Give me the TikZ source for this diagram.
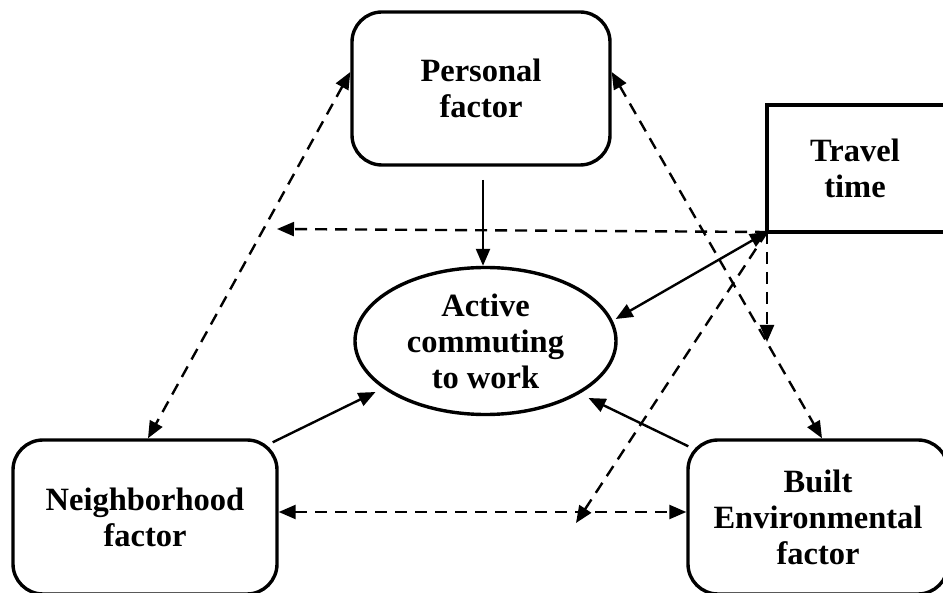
\documentclass[tikz,border=0pt]{standalone}
\usepackage{fontspec}
\setmainfont{Liberation Serif}
\usetikzlibrary{arrows.meta,shapes.geometric,calc}
\tikzset{
  box/.style={draw,line width=3.4pt,rounded corners=30pt,align=center,
    font=\bfseries\fontsize{32.5}{36}\selectfont,inner sep=0pt},
  oval/.style={draw,ellipse,line width=3.4pt,align=center,
    font=\bfseries\fontsize{32.5}{36}\selectfont,inner sep=0pt,
    minimum width=261pt,minimum height=147pt},
  head/.tip={Triangle[length=17pt,width=14pt]},
  tip/.style={-head},
  bitip/.style={head-head},
  solidarrow/.style={line width=2.4pt},
  dasharrow/.style={line width=2.4pt,dash pattern=on 12pt off 8pt},
}
\begin{document}
\begin{tikzpicture}[x=1pt,y=-1pt]
\useasboundingbox (0,0) rectangle (943,593);

% factor boxes
\node[box,minimum width=258pt,minimum height=153pt] (pf) at (481,88.5)
  {Personal\\factor};
\node[box,minimum width=264pt,minimum height=154pt] (nf) at (145,517)
  {Neighborhood\\factor};
\node[box,minimum width=260pt,minimum height=154pt] (bf) at (818,517)
  {Built\\Environmental\\factor};

% travel time box, open at the right edge
\draw[line width=3.4pt] (960,105) -- (767,105) -- (767,232) -- (960,232);
\node[font=\bfseries\fontsize{32.5}{36}\selectfont,align=center] (tt) at (855,168)
  {Travel\\time};
\coordinate (ttc) at (767,232);

% outcome
\node[oval] (ac) at (485.5,341) {Active\\commuting\\to work};

% coordinates for arrow ends
\coordinate (pfb) at (483,180);
\coordinate (ttl) at (277,229);
\coordinate (ttd) at (767,342);
\coordinate (ttm) at (576,523);

% solid paths into the outcome
\draw[solidarrow,tip] (pfb) -- (pfb |- ac.north);
\draw[solidarrow,bitip] (ac.east |- 0,319) ++(-2,0) coordinate (acr) (ttc) -- (acr);
\draw[solidarrow,tip] (nf.north east) ++(-6,4) coordinate (nfs) (nfs) -- ($(ac.center)+(-110,51)$);
\draw[solidarrow,tip] ($(bf.north west)+(2,8)$) coordinate (bfs) -- ($(ac.center)+(103,57)$);

% dashed paths from travel time
\draw[dasharrow,tip] (ttc) -- (ttl);
\draw[dasharrow,tip] (ttc) -- (ttd);
\draw[dasharrow,tip] (ttc) -- (ttm);

% dashed correlations between factors
\draw[dasharrow,bitip] ([yshift=16.5pt]pf.west) -- ([xshift=3pt]nf.north);
\draw[dasharrow,bitip] ([yshift=16.5pt]pf.east) -- ([xshift=4pt]bf.north);
\draw[dasharrow,bitip] ([yshift=5pt]nf.east) -- ([yshift=5pt]bf.west);
\end{tikzpicture}
\end{document}
